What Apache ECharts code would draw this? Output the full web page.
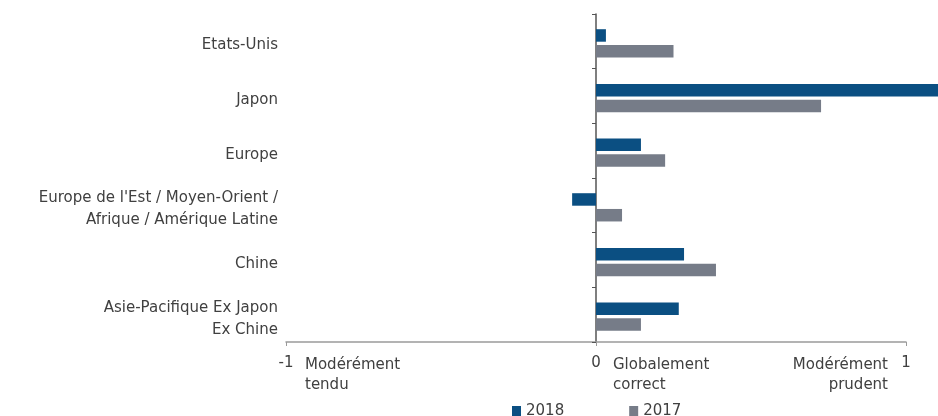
<!DOCTYPE html>
<html><head><meta charset="utf-8">
<script src="https://cdn.jsdelivr.net/npm/echarts@6/dist/echarts.min.js"></script>
<style>html,body{margin:0;padding:0;background:#fff}#c{width:938px;height:416px}</style>
</head><body><div id="c"></div>
<script>
var categories = ["Etats-Unis", "Japon", "Europe", "Europe de l'Est / Moyen-Orient /\nAfrique / Amérique Latine", "Chine", "Asie-Pacifique Ex Japon\nEx Chine"];
var values2018 = [0.032, 1.15, 0.145, -0.077, 0.284, 0.267];
var values2017 = [0.25, 0.726, 0.223, 0.084, 0.387, 0.145];
var seriesNames = ["2018", "2017"];
var xTicks = [-1, 0, 1];
var annotations = ["Modérément\ntendu", "Globalement\ncorrect", "Modérément\nprudent"];

var FONT = '"DejaVu Sans"';
var FS = 15;
var TXT = '#404040';
var chart = echarts.init(document.getElementById('c'), null, {renderer: 'canvas'});
chart.setOption({
  animation: false,
  textStyle: {fontFamily: FONT},
  grid: [
    {left: 286, right: 32, top: 14, bottom: 74, containLabel: false},
    {left: 286, right: 32, top: 16, bottom: 72, containLabel: false},
    {left: 286, right: 32, top: 18, bottom: 70, containLabel: false}
  ],
  legend: {
    data: seriesNames, left: 507, top: 399, icon: 'rect', itemWidth: 9, itemHeight: 11, itemGap: 65,
    textStyle: {fontFamily: FONT, fontSize: 15, color: TXT}
  },
  xAxis: [{
    gridIndex: 0, type: 'value', min: xTicks[0], max: xTicks[xTicks.length - 1], interval: 1,
    splitLine: {show: false},
    axisLine: {show: true, onZero: false, lineStyle: {color: '#9a9a9a', width: 1.5}},
    axisTick: {show: true, length: 4, lineStyle: {color: '#9a9a9a'}},
    axisLabel: {fontFamily: FONT, fontSize: FS, color: TXT, margin: 14,
      formatter: function (v) { return xTicks.indexOf(v) >= 0 ? String(v) : ''; }}
  }, {
    gridIndex: 1, type: 'value', min: xTicks[0], max: xTicks[xTicks.length - 1], interval: 1,
    show: false, splitLine: {show: false}
  }, {
    gridIndex: 2, type: 'value', min: xTicks[0], max: xTicks[xTicks.length - 1], interval: 1,
    show: false, splitLine: {show: false}
  }],
  yAxis: [{
    gridIndex: 1, type: 'category', data: categories, inverse: true, show: false
  }, {
    gridIndex: 0, type: 'category', data: categories, inverse: true, position: 'left',
    axisLine: {show: true, onZero: true, lineStyle: {color: '#555', width: 1.5}},
    axisTick: {show: true, length: 4, lineStyle: {color: '#555'}},
    axisLabel: {show: false}
  }, {
    gridIndex: 2, type: 'category', data: categories, inverse: true,
    axisLine: {show: false, onZero: false}, axisTick: {show: false},
    axisLabel: {fontFamily: FONT, fontSize: FS, color: TXT, margin: 8, lineHeight: 22, align: 'right'}
  }],
  series: [{
    name: seriesNames[0], type: 'bar', data: values2018, xAxisIndex: 1, yAxisIndex: 0, clip: false,
    barWidth: 12.5, barGap: '26%', itemStyle: {color: '#0b4f82'}
  }, {
    name: seriesNames[1], type: 'bar', data: values2017, xAxisIndex: 1, yAxisIndex: 0, clip: false,
    barWidth: 12.5, barGap: '26%', itemStyle: {color: '#767c88'}
  }],
  graphic: [
    {type: 'text', x: 305, y: 355, style: {text: annotations[0], font: FS + 'px ' + FONT, fill: TXT, lineHeight: 20}},
    {type: 'text', x: 613, y: 355, style: {text: annotations[1], font: FS + 'px ' + FONT, fill: TXT, lineHeight: 20}},
    {type: 'text', x: 888, y: 355, style: {text: annotations[2], font: FS + 'px ' + FONT, fill: TXT, lineHeight: 20, align: 'right'}}
  ]
});
</script></body></html>
